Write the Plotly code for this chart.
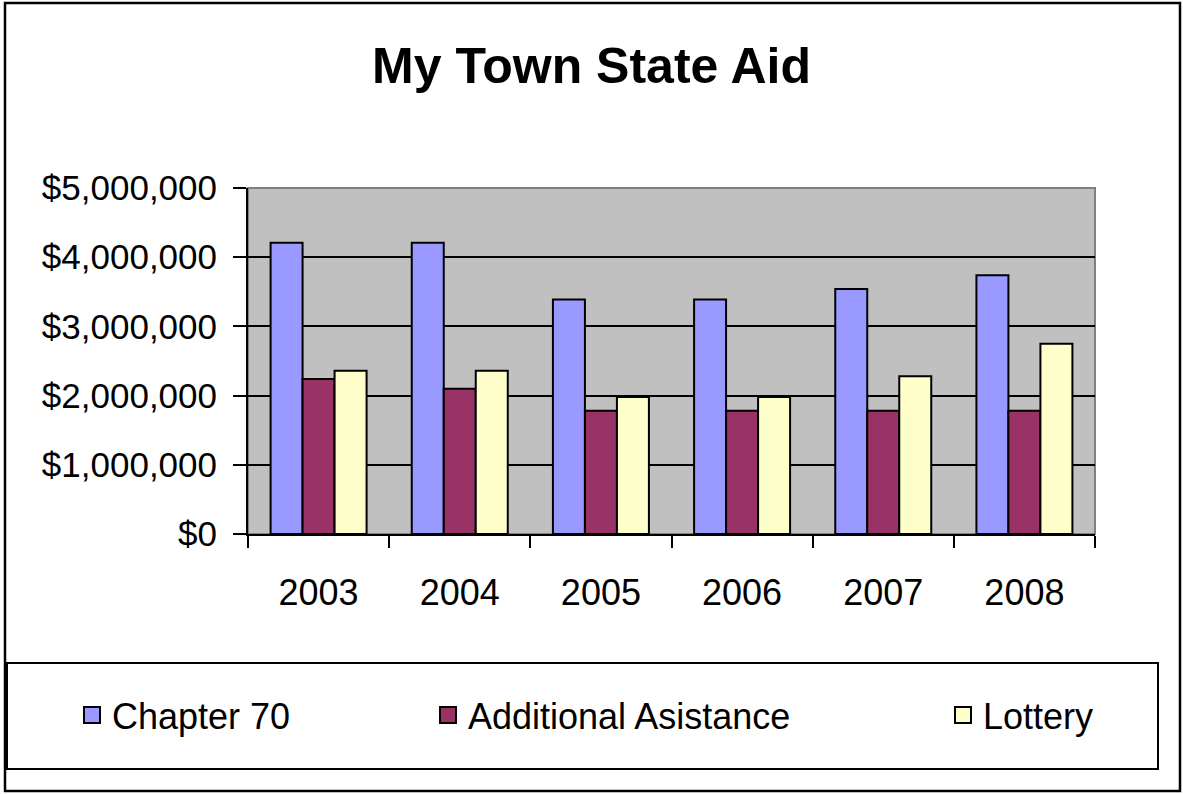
import plotly.graph_objects as go

# ---- data ----
years = ["2003", "2004", "2005", "2006", "2007", "2008"]
chapter70 = [4210000, 4210000, 3390000, 3390000, 3540000, 3740000]
additional = [2240000, 2100000, 1780000, 1780000, 1780000, 1780000]
lottery = [2360000, 2360000, 1980000, 1980000, 2280000, 2750000]
series_names = ["Chapter 70", "Additional Asistance", "Lottery"]
ytick_vals = [0, 1000000, 2000000, 3000000, 4000000, 5000000]
ytick_text = ["$0", "$1,000,000", "$2,000,000", "$3,000,000", "$4,000,000", "$5,000,000"]
title_text = "My Town State Aid"

# ---- style ----
colors = ["#9999FF", "#993366", "#FFFFCC"]
FONT = "Liberation Sans, Arial, sans-serif"
W, H = 1183, 794
L, R, T, B = 248, 1095, 188, 534


def px(x):
    return (x - L) / (R - L)


def py(y):
    return (B - y) / (B - T)


fig = go.Figure()
series = [chapter70, additional, lottery]
for name, vals, col in zip(series_names, series, colors):
    fig.add_trace(go.Bar(
        x=years, y=vals, name=name, showlegend=False,
        marker=dict(color=col, line=dict(color="black", width=2)),
    ))

legend_ids = ["legend", "legend2", "legend3"]
for name, col, lid in zip(series_names, colors, legend_ids):
    fig.add_trace(go.Scatter(
        x=[years[0]], y=[None], mode="markers", name=name, legend=lid,
        hoverinfo="skip",
        marker=dict(symbol="square", size=16, color=col,
                    line=dict(color="black", width=2)),
    ))

legend_left = [72, 428, 943]
leg_common = dict(xref="container", yref="container", xanchor="left",
                  yanchor="middle", y=1 - 715 / H, bgcolor="rgba(0,0,0,0)",
                  borderwidth=0, font=dict(family=FONT, size=36, color="black"))

fig.update_layout(
    width=W, height=H,
    margin=dict(l=L, r=W - R, t=T, b=H - B, pad=0, autoexpand=False),
    paper_bgcolor="white", plot_bgcolor="#C0C0C0",
    font=dict(family=FONT, color="black"),
    title=dict(text=title_text, x=0.5, xref="container", xanchor="center",
               y=1 - 65 / H, yref="container", yanchor="middle",
               font=dict(family=FONT, size=50, color="black", weight="bold")),
    barmode="group", bargap=0.32, bargroupgap=0,
    legend=dict(x=legend_left[0] / W, **leg_common),
    legend2=dict(x=legend_left[1] / W, **leg_common),
    legend3=dict(x=legend_left[2] / W, **leg_common),
    xaxis=dict(type="category", showline=True, linecolor="black", linewidth=2,
               ticks="outside", tickson="boundaries", ticklen=12, tickwidth=2,
               tickcolor="black", showgrid=False, zeroline=False, tickangle=0,
               automargin=False,
               tickfont=dict(family=FONT, size=36, color="black"),
               ticklabelstandoff=26, fixedrange=True),
    yaxis=dict(range=[0, 5000000], tickvals=ytick_vals, ticktext=ytick_text,
               showline=True, linecolor="black", linewidth=2, automargin=False,
               ticks="outside", ticklen=13, tickwidth=2, tickcolor="black",
               showgrid=True, gridcolor="black", gridwidth=2, zeroline=False,
               tickfont=dict(family=FONT, size=35, color="black"),
               ticklabelstandoff=9, fixedrange=True),
    shapes=[
        dict(type="rect", xref="paper", yref="paper", x0=0, x1=1, y0=0, y1=1,
             line=dict(color="#808080", width=2), layer="below"),
        dict(type="rect", xref="paper", yref="paper", x0=px(5), x1=px(1180),
             y0=py(791), y1=py(3), line=dict(color="black", width=2.5)),
        dict(type="rect", xref="paper", yref="paper", x0=px(7), x1=px(1158),
             y0=py(769), y1=py(663), line=dict(color="black", width=2)),
    ],
)

fig.write_html("out.html", config={"displayModeBar": False},
               post_script="document.body.style.margin='0';document.body.style.overflow='hidden';")
